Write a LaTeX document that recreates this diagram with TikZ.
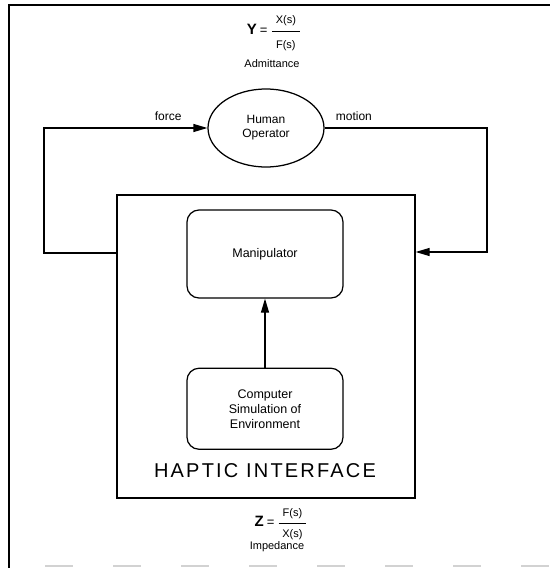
\documentclass[tikz,border=0pt]{standalone}
\usepackage{amsmath}
\usepackage{fontspec}
\setmainfont{Liberation Sans}
\usetikzlibrary{arrows.meta, positioning, shapes.geometric}
% fraction with a thick bar; #3 and #4 open the gap round the bar
\newcommand{\tf}[4]{\genfrac{}{}{1.4pt}{0}{\text{\hspace{4pt}#1\hspace{4pt}}\rule[-#3]{0pt}{#3}}{\rule{0pt}{#4}\text{#2}}}

\begin{document}
\begin{tikzpicture}[x=1pt, y=-1pt, >={Triangle[length=14pt, width=8pt]},
    line width=1.25pt,
    block/.style={draw, rounded corners=12pt, minimum width=156pt, align=center, font=\fontsize{12.5}{15}\selectfont},
    lbl/.style={font=\fontsize{12}{14}\selectfont},
    eqn/.style={font=\fontsize{11}{13}\selectfont},
    subtext/.style={font=\fontsize{11}{13}\selectfont}]
        \useasboundingbox (0,0) rectangle (550,568);
        % frame of the scan
        \draw[line width=1.5pt] (9,568) -- (9,5) -- (550,5);
        \draw[gray!35, line width=2pt, dash pattern=on 28pt off 40pt] (45,566) -- (550,566);
        % nodes
        \node (ydef) [eqn] at (274,33) {{\fontsize{15}{15}\selectfont\bfseries Y}\;{\fontsize{13}{13}\selectfont=}\;$\tf{X(s)}{F(s)}{3pt}{12pt}$};
        \node (adm) [subtext] at (272,64) {Admittance};
        \node (human) [draw, ellipse, minimum width=116pt, minimum height=78pt, align=center, lbl] at (266,128) {Human\\Operator};
        \node (haptic) [draw, minimum width=298pt, minimum height=303pt] at (266,346.5) {};
        \node (manip) [block, minimum height=88pt] at (265,254) {Manipulator};
        \node (comp) [block, minimum height=81pt, below=69pt of manip] {Computer\\Simulation of\\Environment};
        \node (hlbl) [font=\fontsize{20}{20}\selectfont, below=10pt of comp] {\addfontfeature{LetterSpace=11}HAPTIC INTERFACE};
        \node (zdef) [eqn] at (281,524) {{\fontsize{15}{15}\selectfont\bfseries Z}\;{\fontsize{13}{13}\selectfont=}\;$\tf{F(s)}{X(s)}{1pt}{9pt}$};
        \node (imp) [subtext] at (277,547) {Impedance};
        \coordinate (fl) at (44,253);
        \coordinate (mr) at (487,252);
        % connectors
        \draw[->] (haptic.west |- fl) -- (fl) |- (human.west) node[pos=0.88, above=3pt, lbl] {force};
        \draw[->] (human.east) -| (mr) node[pos=0.09, above=3pt, lbl] {motion} -- (haptic.east |- mr);
        \draw[->] (comp) -- (manip);
      \end{tikzpicture}
\end{document}
